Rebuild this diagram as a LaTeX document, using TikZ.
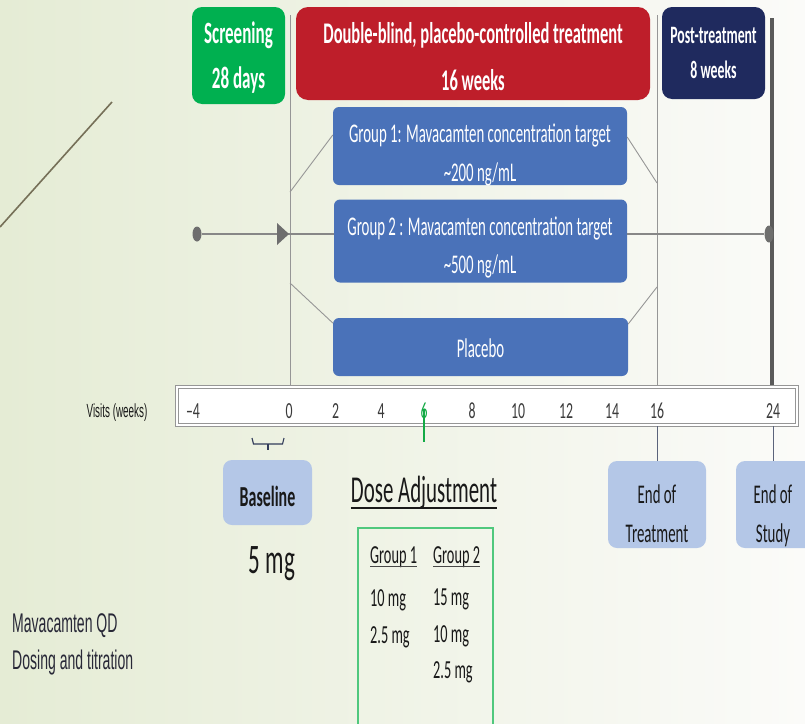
\documentclass[tikz,border=0pt]{standalone}
\usepackage{fontspec}
\newfontfamily\cf{Carlito}[FakeStretch=0.55]
\newfontfamily\cft{Carlito}[FakeStretch=0.6]
\newfontfamily\af{Liberation Sans}[FakeStretch=0.52]
\usetikzlibrary{shapes.geometric}
\definecolor{bgl}{RGB}{229,236,213}
\definecolor{bgm}{RGB}{242,245,235}
\definecolor{bgr}{RGB}{251,251,249}
\definecolor{scrgreen}{RGB}{0,176,80}
\definecolor{dbred}{RGB}{190,30,42}
\definecolor{navy}{RGB}{31,42,94}
\definecolor{grpblue}{RGB}{74,114,185}
\definecolor{lblue}{RGB}{180,199,231}
\definecolor{lgray}{RGB}{150,150,150}
\definecolor{dgray}{RGB}{90,90,90}
\definecolor{dotgray}{RGB}{110,110,110}
\definecolor{txtdark}{RGB}{25,25,25}
\definecolor{gboxc}{RGB}{80,200,125}
\definecolor{gline}{RGB}{20,170,70}
\definecolor{diag}{RGB}{118,112,88}
\definecolor{brk}{RGB}{50,60,90}
\definecolor{lefttxt}{RGB}{40,40,55}
\newcommand\fsz[1]{\fontsize{#1}{#1}\selectfont}
\begin{document}
\begin{tikzpicture}[x=1pt,y=-1pt,
  phase/.style={rounded corners=10pt, inner sep=0pt},
  grp/.style={fill=grpblue, rounded corners=6pt, inner sep=0pt},
  lbox/.style={fill=lblue, rounded corners=9pt, inner sep=0pt},
  wt/.style={anchor=base, text=white, inner sep=0pt},
  dt/.style={anchor=base, text=txtdark, inner sep=0pt},
  tick/.style={anchor=base, text=txtdark!85, inner sep=0pt, font=\cft\fsz{23}},
  thin/.style={draw=lgray, line width=0.9pt},
  tl/.style={draw=lgray!90!black, line width=1.6pt},
  dotn/.style={ellipse, fill=dotgray, inner sep=0pt, minimum width=9pt, minimum height=15pt}
]
\useasboundingbox (0,0) rectangle (805,723);
\shade[left color=bgl, middle color=bgm, right color=bgr] (0,0) rectangle (805,723);

% decorative diagonal line
\draw[diag, line width=1.6pt] (0,227) -- (112,102);

% phase boxes
\node[phase, fill=scrgreen, minimum width=93pt, minimum height=97pt] (scr) at (238.5,55.5) {};
\node[phase, fill=dbred, rounded corners=12pt, minimum width=354pt, minimum height=93pt] (dbl) at (473,53.5) {};
\node[phase, fill=navy, minimum width=103pt, minimum height=92pt] (post) at (713.5,53) {};
\node[wt, font=\cf\bfseries\fsz{31}] at (238.5,43) {Screening};
\node[wt, font=\cf\bfseries\fsz{31}] at (238.5,88) {28 days};
\node[wt, font=\cf\bfseries\fsz{30}] at (473,43) {Double-blind, placebo-controlled treatment};
\node[wt, font=\cf\bfseries\fsz{30}] at (473,90) {16 weeks};
\node[wt, font=\cf\bfseries\fsz{25}] at (713.5,43) {Post-treatment};
\node[wt, font=\cf\bfseries\fsz{25}] at (713.5,78) {8 weeks};

% vertical lines
\coordinate (v0t) at (290,15);
\coordinate (v0b) at (290,385);
\coordinate (v16t) at (657,15);
\coordinate (v16b) at (657,385);
\coordinate (v24t) at (772,18);
\coordinate (v24b) at (772,386);
\draw[thin] (v0t) -- (v0b);
\draw[thin] (v16t) -- (v16b);
\draw[draw=dgray, line width=3.5pt] (v24t) -- (v24b);

% group boxes
\node[grp, minimum width=294pt, minimum height=78pt] (g1) at (480,146) {};
\node[grp, minimum width=293pt, minimum height=83pt] (g2) at (480.5,241) {};
\node[grp, minimum width=295pt, minimum height=58pt] (pl) at (480.5,347) {};
\node[wt, font=\cf\fsz{27}] at (480,142) {Group 1: Mavacamten concentration target};
\node[wt, font=\cf\fsz{27}] at (480,181) {\textasciitilde200 ng/mL};
\node[wt, font=\cf\fsz{27}] at (480,235) {Group 2 : Mavacamten concentration target};
\node[wt, font=\cf\fsz{27}] at (480,273) {\textasciitilde500 ng/mL};
\node[wt, font=\cf\fsz{27}] at (480.5,357) {Placebo};

% diagonal branch lines
\coordinate (a1) at (290,192);
\coordinate (b1) at (657,183);
\coordinate (a2) at (290,283);
\coordinate (b2) at (657,287);
\draw[thin] (a1) -- ([yshift=11pt]g1.west);
\draw[thin] ([yshift=9pt]g1.east) -- (b1);
\draw[thin] (a2) -- ([yshift=24pt]pl.west);
\draw[thin] ([yshift=23pt]pl.east) -- (b2);

% main time line
\node[dotn] (ldot) at (197,234) {};
\node[dotn, minimum height=17pt] (rdot) at (769,234) {};
\draw[tl] (ldot) -- (ldot -| g2.west);
\draw[tl] (rdot -| g2.east) -- (rdot);
\fill[dotgray] (277,223) -- (289,234) -- (277,245) -- cycle;

% visits bar
\node[font=\af\fsz{19}, text=txtdark, anchor=base, inner sep=0pt] at (117,417) {Visits (weeks)};
\node[draw=lgray, line width=1pt, double=white, double distance=1.6pt, fill=white, minimum width=620pt, minimum height=38pt, inner sep=0pt] (bar) at (487,406) {};
\node[tick] (tm4) at (193,418) {\textendash4};
\node[tick] (t0) at (289,418) {0};
\node[tick] (t2) at (335.5,418) {2};
\node[tick] (t4) at (381,418) {4};
\node[tick, text=gline] (t6) at (424,418) {6};
\node[tick] (t8) at (472,418) {8};
\node[tick] (t10) at (518,418) {10};
\node[tick] (t12) at (566,418) {12};
\node[tick] (t14) at (612,418) {14};
\node[tick] (t16) at (657,418) {16};
\node[tick] (t24) at (773,418) {24};
\coordinate (gend) at (424,442);
\draw[gline, line width=1.4pt] (t6.center) -- (gend);

% baseline bracket
\draw[brk, line width=1.1pt] (252,438) -- (253.5,444) -- (282.5,444) -- (284,438);
\draw[brk, line width=1.1pt] (268,444) -- (268,450);

% lower boxes
\node[lbox, minimum width=89pt, minimum height=65pt] (base) at (267.5,492.5) {};
\node[dt, font=\cf\bfseries\fsz{29}] at (267.5,506) {Baseline};
\node[dt, font=\cf\fsz{42}] at (272,573) {5 mg};

\node[lbox, minimum width=98pt, minimum height=87pt] (eot) at (657,504.5) {};
\node[lbox, minimum width=80pt, minimum height=87pt] (eos) at (776,504.5) {};
\draw[draw=brk!80, line width=1pt] (eot.north) -- (eot.north |- bar.south);
\draw[draw=brk!80, line width=1pt] (eos.north -| t24) -- (t24 |- bar.south);
\node[dt, font=\cf\fsz{27}] at (657,503) {End of};
\node[dt, font=\cf\fsz{27}] at (657,542) {Treatment};
\node[dt, font=\cf\fsz{27}] at (773,503) {End of};
\node[dt, font=\cf\fsz{27}] at (773,542) {Study};

% dose adjustment
\node[dt, font=\cf\fsz{38}] (da) at (424,502) {Dose Adjustment};
\draw[txtdark, line width=2pt] ([yshift=-5.5pt]da.base west) -- ([yshift=-5.5pt]da.base east);
\node[draw=gboxc, line width=1.3pt, minimum width=135pt, minimum height=200pt, inner sep=0pt] (gbox) at (425.5,628) {};
\node[dt, font=\cf\fsz{26}, anchor=base west] (h1) at (370,563) {Group 1};
\node[dt, font=\cf\fsz{26}, anchor=base west] (h2) at (433,563) {Group 2};
\draw[txtdark!80, line width=1pt] ([yshift=-3.5pt]h1.base west) -- ([yshift=-3.5pt]h1.base east);
\draw[txtdark!80, line width=1pt] ([yshift=-3.5pt]h2.base west) -- ([yshift=-3.5pt]h2.base east);
\node[dt, font=\cf\fsz{26}, anchor=base west] at (370,606) {10 mg};
\node[dt, font=\cf\fsz{26}, anchor=base west] at (370,643) {2.5 mg};
\node[dt, font=\cf\fsz{26}, anchor=base west] at (433,605) {15 mg};
\node[dt, font=\cf\fsz{26}, anchor=base west] at (433,642) {10 mg};
\node[dt, font=\cf\fsz{26}, anchor=base west] at (433,678) {2.5 mg};

% left caption
\node[anchor=base west, inner sep=0pt, text=lefttxt, font=\af\fsz{27}] at (12,632) {Mavacamten QD};
\node[anchor=base west, inner sep=0pt, text=lefttxt, font=\af\fsz{27}] at (12,669) {Dosing and titration};
\end{tikzpicture}
\end{document}
